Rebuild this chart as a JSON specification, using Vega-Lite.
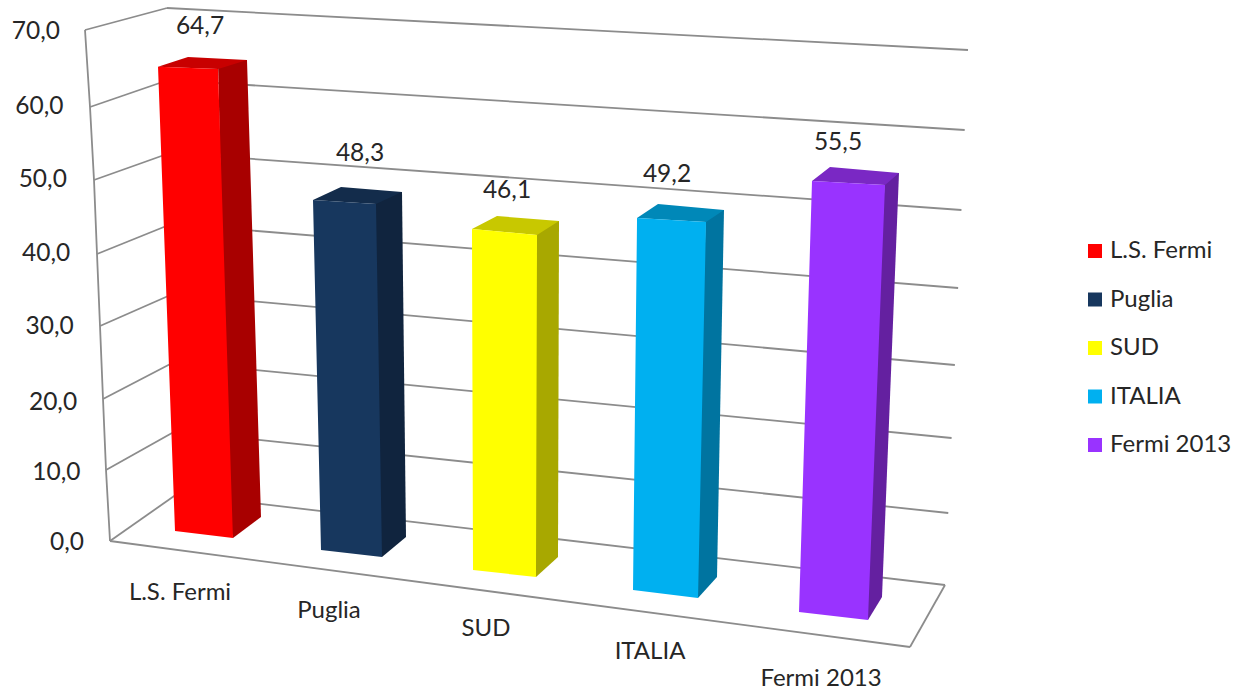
{
"$schema":"https://vega.github.io/schema/vega-lite/v6.json",
"width":1242,"height":693,"autosize":"none","padding":0,"background":"white",
"config":{"view":{"stroke":null},"axis":{"disable":true},"font":"Lato","text":{"font":"Lato"}},
"datasets":{
"bars":[
{"area":"L.S. Fermi","value":64.7,"label":"64,7"},
{"area":"Puglia","value":48.3,"label":"48,3"},
{"area":"SUD","value":46.1,"label":"46,1"},
{"area":"ITALIA","value":49.2,"label":"49,2"},
{"area":"Fermi 2013","value":55.5,"label":"55,5"}],
"grid":[
{"level":0,"tick":"0,0"},{"level":10,"tick":"10,0"},{"level":20,"tick":"20,0"},{"level":30,"tick":"30,0"},
{"level":40,"tick":"40,0"},{"level":50,"tick":"50,0"},{"level":60,"tick":"60,0"},{"level":70,"tick":"70,0"}]
},
"resolve":{"scale":{"x":"independent","y":"independent"}},
"layer":[
{"data":{"name":"grid"},"transform":[{"calculate":"datum.level+1000","as":"far"}],
"mark":{"type":"rule","color":"#8c8c8c","strokeWidth":1.8},
"encoding":{
"x":{"field":"level","type":"quantitative","scale":{"zero":false,"nice":false,"domain":[0,70,1000,1070],"range":[177,167,945,968]}},
"x2":{"field":"far"},
"y":{"field":"level","type":"quantitative","scale":{"zero":false,"nice":false,"domain":[0,10,20,30,40,50,60,70,1000,1010,1020,1030,1040,1050,1060,1070],"range":[494,431,362,294,224,153,80,8,585,513,438,365,288,210,130,50]}},
"y2":{"field":"far"}}},
{"data":{"name":"grid"},"transform":[{"calculate":"datum.level+1000","as":"far"}],
"mark":{"type":"rule","color":"#8c8c8c","strokeWidth":1.8},
"encoding":{
"x":{"field":"level","type":"quantitative","scale":{"zero":false,"nice":false,"domain":[0,10,20,30,40,50,60,70,1000,1070],"range":[110,106,103,100,97,94,90,85,177,167]}},
"x2":{"field":"far"},
"y":{"field":"level","type":"quantitative","scale":{"zero":false,"nice":false,"domain":[0,10,20,30,40,50,60,70,1000,1010,1020,1030,1040,1050,1060,1070],"range":[541,470,399,326,254,180,107,30,494,431,362,294,224,153,80,8]}},
"y2":{"field":"far"}}},
{"data":{"name":"grid"},
"mark":{"type":"line","color":"#8c8c8c","strokeWidth":1.8},
"encoding":{
"x":{"field":"level","type":"quantitative","scale":{"zero":false,"nice":false,"domain":[0,10,20,30,40,50,60,70],"range":[110,106,103,100,97,94,90,85]}},
"y":{"field":"level","type":"quantitative","scale":{"zero":false,"nice":false,"domain":[0,10,20,30,40,50,60,70],"range":[541,470,399,326,254,180,107,30]}}}},
{"data":{"name":"grid"},"transform":[{"filter":"datum.level===0"}],
"mark":{"type":"rule","color":"#8c8c8c","strokeWidth":1.8},
"encoding":{
"x":{"datum":0,"type":"quantitative","scale":{"zero":false,"nice":false,"domain":[0,1],"range":[110,910]}},
"x2":{"datum":1},
"y":{"datum":0,"type":"quantitative","scale":{"zero":false,"nice":false,"domain":[0,1],"range":[541,647]}},
"y2":{"datum":1}}},
{"data":{"name":"grid"},"transform":[{"filter":"datum.level===0"}],
"mark":{"type":"rule","color":"#8c8c8c","strokeWidth":1.8},
"encoding":{
"x":{"datum":0,"type":"quantitative","scale":{"zero":false,"nice":false,"domain":[0,1],"range":[910,945]}},
"x2":{"datum":1},
"y":{"datum":0,"type":"quantitative","scale":{"zero":false,"nice":false,"domain":[0,1],"range":[647,585]}},
"y2":{"datum":1}}},
{"data":{"name":"grid"},
"mark":{"type":"text","align":"right","baseline":"middle","fontSize":24.5,"color":"#262626"},
"encoding":{"text":{"field":"tick"},
"x":{"field":"level","type":"quantitative","scale":{"zero":false,"nice":false,"domain":[0,70],"range":[84,60]}},
"y":{"field":"level","type":"quantitative","scale":{"zero":false,"nice":false,"domain":[0,10,20,30,40,50,60,70],"range":[543,473,403,327,254,180,107,32]}}}},

{"data":{"name":"bars"},"transform":[{"filter":"datum.area==='L.S. Fermi'"},{"calculate":"[0,1,2]","as":"s"},{"flatten":["s"]},{"calculate":"datum.s+10","as":"e"}],
"mark":{"type":"area","orient":"horizontal","color":"#a80000"},
"encoding":{"x":{"field":"s","type":"quantitative","scale":{"zero":false,"nice":false,"domain":[0,1,2,10,11,12],"range":[218,228,233,247,261,233]}},"x2":{"field":"e"},
"y":{"field":"s","type":"quantitative","scale":{"zero":false,"nice":false,"domain":[0,1,2],"range":[60,517,538]}}}},
{"data":{"name":"bars"},"transform":[{"filter":"datum.area==='L.S. Fermi'"},{"calculate":"[0,1,2,3]","as":"s"},{"flatten":["s"]},{"calculate":"datum.s+10","as":"e"}],
"mark":{"type":"area","orient":"horizontal","color":"#c80000"},
"encoding":{"x":{"field":"s","type":"quantitative","scale":{"zero":false,"nice":false,"domain":[0,1,2,3,10,11,12,13],"range":[188,178.7,158,218,188,247,225.4,218]}},"x2":{"field":"e"},
"y":{"field":"s","type":"quantitative","scale":{"zero":false,"nice":false,"domain":[0,1,2,3],"range":[57,60,66.7,69]}}}},
{"data":{"name":"bars"},"transform":[{"filter":"datum.area==='L.S. Fermi'"},{"calculate":"[0,1,2,3]","as":"s"},{"flatten":["s"]},{"calculate":"datum.s+10","as":"e"},{"calculate":"datum.value*datum.s/3","as":"h"}],
"mark":{"type":"area","orient":"horizontal"},
"encoding":{"x":{"field":"s","type":"quantitative","scale":{"zero":false,"nice":false,"domain":[0,1,2,3,10,11,12,13],"range":[233,175,158.1,158,233,232.7,218,158]}},"x2":{"field":"e"},
"y":{"field":"h","type":"quantitative","scale":{"zero":false,"nice":false,"domain":[0,21.5667,43.1333,64.7],"range":[538,531,69,66.7]}},
"color":{"field":"area","type":"nominal","title":null,"sort":null,"scale":{"domain":["L.S. Fermi","Puglia","SUD","ITALIA","Fermi 2013"],"range":["#ff0000","#17375e","#ffff00","#00b0f0","#9933ff"]},
"legend":{"orient":"none","legendX":1083,"legendY":239,"symbolType":"square","symbolSize":196,"symbolStrokeWidth":0,"labelFontSize":24,"labelColor":"#262626","labelFont":"Lato","labelOffset":3,"rowPadding":24.5,"padding":0}}}},

{"data":{"name":"bars"},"transform":[{"filter":"datum.area==='Puglia'"},{"calculate":"[0,1,2]","as":"s"},{"flatten":["s"]},{"calculate":"datum.s+10","as":"e"}],
"mark":{"type":"area","orient":"horizontal","color":"#10243e"},
"encoding":{"x":{"field":"s","type":"quantitative","scale":{"zero":false,"nice":false,"domain":[0,1,2,10,11,12],"range":[376,376,382,402,406,382]}},"x2":{"field":"e"},
"y":{"field":"s","type":"quantitative","scale":{"zero":false,"nice":false,"domain":[0,1,2],"range":[192,537,557]}}}},
{"data":{"name":"bars"},"transform":[{"filter":"datum.area==='Puglia'"},{"calculate":"[0,1,2,3]","as":"s"},{"flatten":["s"]},{"calculate":"datum.s+10","as":"e"}],
"mark":{"type":"area","orient":"horizontal","color":"#132c4b"},
"encoding":{"x":{"field":"s","type":"quantitative","scale":{"zero":false,"nice":false,"domain":[0,1,2,3,10,11,12,13],"range":[341,330.2,313,376,341,402,384.7,376]}},"x2":{"field":"e"},
"y":{"field":"s","type":"quantitative","scale":{"zero":false,"nice":false,"domain":[0,1,2,3],"range":[187,192,200,204]}}}},
{"data":{"name":"bars"},"transform":[{"filter":"datum.area==='Puglia'"},{"calculate":"[0,1,2,3]","as":"s"},{"flatten":["s"]},{"calculate":"datum.s+10","as":"e"},{"calculate":"datum.value*datum.s/3","as":"h"}],
"mark":{"type":"area","orient":"horizontal"},
"encoding":{"x":{"field":"s","type":"quantitative","scale":{"zero":false,"nice":false,"domain":[0,1,2,3,10,11,12,13],"range":[382,321,313.1,313,382,381.9,376,313]}},"x2":{"field":"e"},
"y":{"field":"h","type":"quantitative","scale":{"zero":false,"nice":false,"domain":[0,16.1,32.2,48.3],"range":[557,550,204,200]}},
"color":{"field":"area","type":"nominal","title":null,"sort":null,"scale":{"domain":["L.S. Fermi","Puglia","SUD","ITALIA","Fermi 2013"],"range":["#ff0000","#17375e","#ffff00","#00b0f0","#9933ff"]}}}},

{"data":{"name":"bars"},"transform":[{"filter":"datum.area==='SUD'"},{"calculate":"[0,1,2]","as":"s"},{"flatten":["s"]},{"calculate":"datum.s+10","as":"e"}],
"mark":{"type":"area","orient":"horizontal","color":"#a8a800"},
"encoding":{"x":{"field":"s","type":"quantitative","scale":{"zero":false,"nice":false,"domain":[0,1,2,10,11,12],"range":[537,530,536,559,558,536]}},"x2":{"field":"e"},
"y":{"field":"s","type":"quantitative","scale":{"zero":false,"nice":false,"domain":[0,1,2],"range":[221,557,577]}}}},
{"data":{"name":"bars"},"transform":[{"filter":"datum.area==='SUD'"},{"calculate":"[0,1,2,3]","as":"s"},{"flatten":["s"]},{"calculate":"datum.s+10","as":"e"}],
"mark":{"type":"area","orient":"horizontal","color":"#c8c800"},
"encoding":{"x":{"field":"s","type":"quantitative","scale":{"zero":false,"nice":false,"domain":[0,1,2,3,10,11,12,13],"range":[497,487.4,472,537,497,559,546.4,537]}},"x2":{"field":"e"},
"y":{"field":"s","type":"quantitative","scale":{"zero":false,"nice":false,"domain":[0,1,2,3],"range":[216,221,229,235]}}}},
{"data":{"name":"bars"},"transform":[{"filter":"datum.area==='SUD'"},{"calculate":"[0,1,2,3]","as":"s"},{"flatten":["s"]},{"calculate":"datum.s+10","as":"e"},{"calculate":"datum.value*datum.s/3","as":"h"}],
"mark":{"type":"area","orient":"horizontal"},
"encoding":{"x":{"field":"s","type":"quantitative","scale":{"zero":false,"nice":false,"domain":[0,1,2,3,10,11,12,13],"range":[536,473,472,472,536,536,537,472]}},"x2":{"field":"e"},
"y":{"field":"h","type":"quantitative","scale":{"zero":false,"nice":false,"domain":[0,15.3667,30.7333,46.1],"range":[577,570,235,229]}},
"color":{"field":"area","type":"nominal","title":null,"sort":null,"scale":{"domain":["L.S. Fermi","Puglia","SUD","ITALIA","Fermi 2013"],"range":["#ff0000","#17375e","#ffff00","#00b0f0","#9933ff"]}}}},

{"data":{"name":"bars"},"transform":[{"filter":"datum.area==='ITALIA'"},{"calculate":"[0,1,2]","as":"s"},{"flatten":["s"]},{"calculate":"datum.s+10","as":"e"}],
"mark":{"type":"area","orient":"horizontal","color":"#0074a0"},
"encoding":{"x":{"field":"s","type":"quantitative","scale":{"zero":false,"nice":false,"domain":[0,1,2,10,11,12],"range":[706,695,698,724,717,698]}},"x2":{"field":"e"},
"y":{"field":"s","type":"quantitative","scale":{"zero":false,"nice":false,"domain":[0,1,2],"range":[210,577,598]}}}},
{"data":{"name":"bars"},"transform":[{"filter":"datum.area==='ITALIA'"},{"calculate":"[0,1,2,3]","as":"s"},{"flatten":["s"]},{"calculate":"datum.s+10","as":"e"}],
"mark":{"type":"area","orient":"horizontal","color":"#0088b8"},
"encoding":{"x":{"field":"s","type":"quantitative","scale":{"zero":false,"nice":false,"domain":[0,1,2,3,10,11,12,13],"range":[658,649,637,706,658,724,712,706]}},"x2":{"field":"e"},
"y":{"field":"s","type":"quantitative","scale":{"zero":false,"nice":false,"domain":[0,1,2,3],"range":[204,210,218,222]}}}},
{"data":{"name":"bars"},"transform":[{"filter":"datum.area==='ITALIA'"},{"calculate":"[0,1,2,3]","as":"s"},{"flatten":["s"]},{"calculate":"datum.s+10","as":"e"},{"calculate":"datum.value*datum.s/3","as":"h"}],
"mark":{"type":"area","orient":"horizontal"},
"encoding":{"x":{"field":"s","type":"quantitative","scale":{"zero":false,"nice":false,"domain":[0,1,2,3,10,11,12,13],"range":[698,633,637,637,698,698.2,706,637]}},"x2":{"field":"e"},
"y":{"field":"h","type":"quantitative","scale":{"zero":false,"nice":false,"domain":[0,16.4,32.8,49.2],"range":[598,590,222,218]}},
"color":{"field":"area","type":"nominal","title":null,"sort":null,"scale":{"domain":["L.S. Fermi","Puglia","SUD","ITALIA","Fermi 2013"],"range":["#ff0000","#17375e","#ffff00","#00b0f0","#9933ff"]}}}},

{"data":{"name":"bars"},"transform":[{"filter":"datum.area==='Fermi 2013'"},{"calculate":"[0,1,2]","as":"s"},{"flatten":["s"]},{"calculate":"datum.s+10","as":"e"}],
"mark":{"type":"area","orient":"horizontal","color":"#6420a0"},
"encoding":{"x":{"field":"s","type":"quantitative","scale":{"zero":false,"nice":false,"domain":[0,1,2,10,11,12],"range":[885,865,868,899,882,868]}},"x2":{"field":"e"},
"y":{"field":"s","type":"quantitative","scale":{"zero":false,"nice":false,"domain":[0,1,2],"range":[173,597,620]}}}},
{"data":{"name":"bars"},"transform":[{"filter":"datum.area==='Fermi 2013'"},{"calculate":"[0,1,2,3]","as":"s"},{"flatten":["s"]},{"calculate":"datum.s+10","as":"e"}],
"mark":{"type":"area","orient":"horizontal","color":"#7a28c4"},
"encoding":{"x":{"field":"s","type":"quantitative","scale":{"zero":false,"nice":false,"domain":[0,1,2,3,10,11,12,13],"range":[830,822.3,812,885,830,899,889.7,885]}},"x2":{"field":"e"},
"y":{"field":"s","type":"quantitative","scale":{"zero":false,"nice":false,"domain":[0,1,2,3],"range":[167,173,181,185]}}}},
{"data":{"name":"bars"},"transform":[{"filter":"datum.area==='Fermi 2013'"},{"calculate":"[0,1,2,3]","as":"s"},{"flatten":["s"]},{"calculate":"datum.s+10","as":"e"},{"calculate":"datum.value*datum.s/3","as":"h"}],
"mark":{"type":"area","orient":"horizontal"},
"encoding":{"x":{"field":"s","type":"quantitative","scale":{"zero":false,"nice":false,"domain":[0,1,2,3,10,11,12,13],"range":[868,799,811.9,812,868,868.3,885,812]}},"x2":{"field":"e"},
"y":{"field":"h","type":"quantitative","scale":{"zero":false,"nice":false,"domain":[0,18.5,37,55.5],"range":[620,612,185,181]}},
"color":{"field":"area","type":"nominal","title":null,"sort":null,"scale":{"domain":["L.S. Fermi","Puglia","SUD","ITALIA","Fermi 2013"],"range":["#ff0000","#17375e","#ffff00","#00b0f0","#9933ff"]}}}},

{"data":{"name":"bars"},
"mark":{"type":"text","align":"center","baseline":"middle","fontSize":24.5,"color":"#262626"},
"encoding":{"text":{"field":"label"},
"x":{"field":"value","type":"quantitative","scale":{"zero":false,"nice":false,"domain":[46.1,48.3,49.2,55.5,64.7],"range":[507,360,667,838,200]}},
"y":{"field":"value","type":"quantitative","scale":{"zero":false,"nice":false,"domain":[46.1,48.3,49.2,55.5,64.7],"range":[191,154,175,143,27]}}}},
{"data":{"name":"bars"},
"mark":{"type":"text","align":"center","baseline":"middle","fontSize":24,"color":"#262626"},
"encoding":{"text":{"field":"area"},
"x":{"field":"value","type":"quantitative","scale":{"zero":false,"nice":false,"domain":[46.1,48.3,49.2,55.5,64.7],"range":[486,329,650,821,180]}},
"y":{"field":"value","type":"quantitative","scale":{"zero":false,"nice":false,"domain":[46.1,48.3,49.2,55.5,64.7],"range":[629,611,652,679,593]}}}}
]
}
